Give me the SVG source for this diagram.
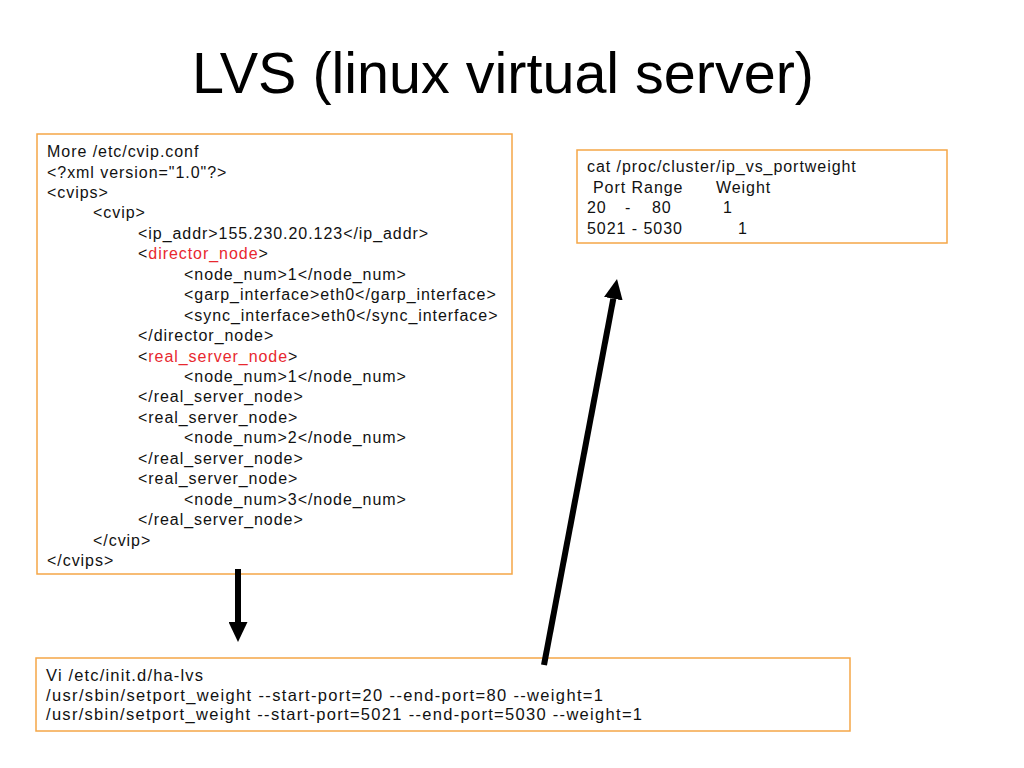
<svg xmlns="http://www.w3.org/2000/svg" width="1024" height="768" viewBox="0 0 1024 768">
<style>
.bg{fill:#ffffff}
.box{fill:#ffffff;stroke:#F5A647;stroke-width:1.5}
.title{font-family:"Liberation Sans",Arial,sans-serif;font-size:57.5px;fill:#000}
.t{font-family:"Liberation Sans",Arial,sans-serif;font-size:16px;letter-spacing:0.95px;fill:#111}
.t3{font-family:"Liberation Sans",Arial,sans-serif;font-size:16.5px;fill:#111}
.red{fill:#E8282F}
.arrow{stroke:#000;stroke-width:6;fill:none}
</style>
<defs>
<marker id="head" markerUnits="userSpaceOnUse" markerWidth="20" markerHeight="19" viewBox="0 0 20 19" refX="0" refY="9.5" orient="auto">
<path d="M0,0 L20,9.5 L0,19 z" fill="#000"/>
</marker>
</defs>
<rect class="bg" x="0" y="0" width="1024" height="768"/>
<text class="title" x="503" y="93" text-anchor="middle">LVS (linux virtual server)</text>

<g id="cvip-conf">
<rect class="box" x="37" y="134" width="475" height="440"/>
<text class="t">
<tspan x="47" y="157">More /etc/cvip.conf</tspan>
<tspan x="47" y="177.5">&lt;?xml version="1.0"?&gt;</tspan>
<tspan x="47" y="197.9">&lt;cvips&gt;</tspan>
<tspan x="93" y="218.4">&lt;cvip&gt;</tspan>
<tspan x="138" y="238.8">&lt;ip_addr&gt;155.230.20.123&lt;/ip_addr&gt;</tspan>
<tspan x="138" y="259.3">&lt;<tspan class="red">director_node</tspan>&gt;</tspan>
<tspan x="184" y="279.7">&lt;node_num&gt;1&lt;/node_num&gt;</tspan>
<tspan x="184" y="300.2">&lt;garp_interface&gt;eth0&lt;/garp_interface&gt;</tspan>
<tspan x="184" y="320.6">&lt;sync_interface&gt;eth0&lt;/sync_interface&gt;</tspan>
<tspan x="138" y="341.1">&lt;/director_node&gt;</tspan>
<tspan x="138" y="361.5">&lt;<tspan class="red">real_server_node</tspan>&gt;</tspan>
<tspan x="184" y="382">&lt;node_num&gt;1&lt;/node_num&gt;</tspan>
<tspan x="138" y="402.4">&lt;/real_server_node&gt;</tspan>
<tspan x="138" y="422.9">&lt;real_server_node&gt;</tspan>
<tspan x="184" y="443.3">&lt;node_num&gt;2&lt;/node_num&gt;</tspan>
<tspan x="138" y="463.8">&lt;/real_server_node&gt;</tspan>
<tspan x="138" y="484.2">&lt;real_server_node&gt;</tspan>
<tspan x="184" y="504.7">&lt;node_num&gt;3&lt;/node_num&gt;</tspan>
<tspan x="138" y="525.1">&lt;/real_server_node&gt;</tspan>
<tspan x="93" y="545.6">&lt;/cvip&gt;</tspan>
<tspan x="47" y="566">&lt;/cvips&gt;</tspan>
</text>
</g>

<g id="portweight">
<rect class="box" x="577" y="150" width="370" height="93"/>
<text class="t">
<tspan x="587" y="172">cat /proc/cluster/ip_vs_portweight</tspan>
<tspan x="593" y="193">Port Range</tspan><tspan x="716" y="193">Weight</tspan>
<tspan x="587" y="213">20</tspan><tspan x="625" y="213">-</tspan><tspan x="652" y="213">80</tspan><tspan x="723" y="213">1</tspan>
<tspan x="587" y="234">5021 - 5030</tspan><tspan x="738" y="234">1</tspan>
</text>
</g>

<g id="ha-lvs">
<rect class="box" x="36" y="658" width="814" height="73"/>
<text class="t3" x="46" y="681" textLength="157" lengthAdjust="spacing">Vi /etc/init.d/ha-lvs</text>
<text class="t3" x="46" y="701" textLength="557" lengthAdjust="spacing">/usr/sbin/setport_weight --start-port=20 --end-port=80 --weight=1</text>
<text class="t3" x="46" y="720" textLength="596" lengthAdjust="spacing">/usr/sbin/setport_weight --start-port=5021 --end-port=5030 --weight=1</text>
</g>

<g id="connectors">
<line class="arrow" x1="238" y1="569" x2="238" y2="622" marker-end="url(#head)"/>
<line class="arrow" x1="544" y1="665" x2="613.3" y2="298.7" marker-end="url(#head)"/>
</g>
</svg>
